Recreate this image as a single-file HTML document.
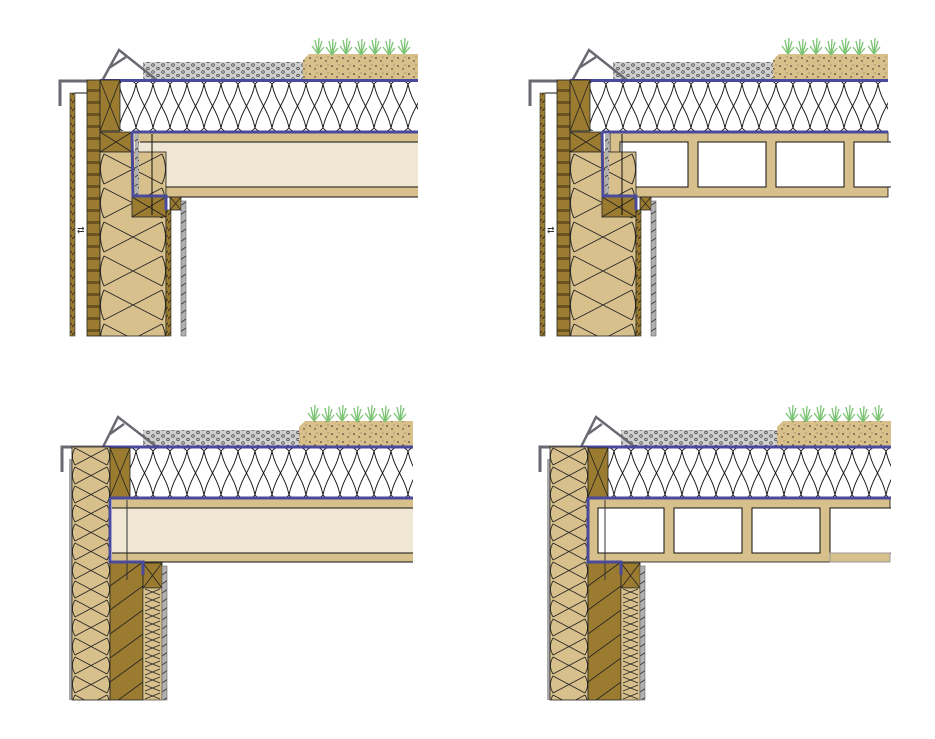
<!DOCTYPE html>
<html><head><meta charset="utf-8"><style>html,body{margin:0;padding:0;background:#fff}svg{display:block}</style></head>
<body>
<svg width="935" height="739" viewBox="0 0 935 739" xmlns="http://www.w3.org/2000/svg">
<defs>
<pattern id="rins" patternUnits="userSpaceOnUse" width="17" height="50" x="0" y="81">
<rect width="17" height="50" fill="#fff"/>
<path d="M0,3 C3,20 14,30 17,47 M17,3 C14,20 3,30 0,47 M0,3 Q8.5,-6 17,3 M0,47 Q8.5,56 17,47" fill="none" stroke="#111" stroke-width="0.9"/>
</pattern>
<pattern id="rins2" patternUnits="userSpaceOnUse" width="17" height="50" x="0" y="448">
<rect width="17" height="50" fill="#fff"/>
<path d="M0,3 C3,20 14,30 17,47 M17,3 C14,20 3,30 0,47 M0,3 Q8.5,-6 17,3 M0,47 Q8.5,56 17,47" fill="none" stroke="#111" stroke-width="0.9"/>
</pattern>
<pattern id="wins" patternUnits="userSpaceOnUse" width="66" height="34" x="100" y="152">
<rect width="66" height="34" fill="#d8c08c"/>
<path d="M4,2 L62,32 M62,2 L4,32 M4,2 Q-3,17 4,32 M62,2 Q69,17 62,32" fill="none" stroke="#222" stroke-width="0.9"/>
</pattern>
<pattern id="wins2" patternUnits="userSpaceOnUse" width="38" height="19" x="72" y="447">
<rect width="38" height="19" fill="#d8c08c"/>
<path d="M3,1 L35,18 M35,1 L3,18 M3,1 Q-2,9.5 3,18 M35,1 Q40,9.5 35,18" fill="none" stroke="#222" stroke-width="0.8"/>
</pattern>
<pattern id="wins3" patternUnits="userSpaceOnUse" width="19" height="8" x="143" y="588">
<rect width="19" height="8" fill="#d8c08c"/>
<path d="M2,1 L17,7 M17,1 L2,7" fill="none" stroke="#222" stroke-width="0.7"/>
</pattern>
<pattern id="batt" patternUnits="userSpaceOnUse" width="13" height="12" x="87" y="80">
<rect width="13" height="12" fill="#9b7b30"/>
<rect y="9" width="13" height="3" fill="#6b5420"/>
</pattern>
<pattern id="diag" patternUnits="userSpaceOnUse" width="33" height="24" x="110" y="562" >
<rect width="33" height="24" fill="#9b7b30"/>
<path d="M0,24 L33,0" stroke="#222" stroke-width="0.9"/>
</pattern>
<pattern id="grav" patternUnits="userSpaceOnUse" width="10" height="7">
<rect width="10" height="7" fill="#cfcfcf"/>
<circle cx="3" cy="2" r="1.3" fill="none" stroke="#333" stroke-width="0.7"/>
<circle cx="8" cy="5.5" r="1.3" fill="none" stroke="#333" stroke-width="0.7"/>
</pattern>
<pattern id="soil" patternUnits="userSpaceOnUse" width="11" height="8">
<rect width="11" height="8" fill="#d9c08a"/>
<circle cx="2" cy="2" r="0.8" fill="#222"/><circle cx="7" cy="5" r="0.7" fill="#222"/><circle cx="9" cy="1" r="0.5" fill="#555"/>
</pattern>
<pattern id="hatch" patternUnits="userSpaceOnUse" width="4" height="8">
<rect width="4" height="8" fill="#9b7b30"/><path d="M0,7 L4,3" stroke="#222" stroke-width="0.8"/>
</pattern>
<pattern id="ghatch" patternUnits="userSpaceOnUse" width="6" height="9">
<rect width="6" height="9" fill="#b0b0b0"/><path d="M0,8 L6,4" stroke="#333" stroke-width="0.8"/>
</pattern>
<g id="grass">
<path d="M0,16 L-3,2 M0,16 L1,0 M0,16 L4,3 M0,16 L-6,8 M0,16 L6,9" stroke="#7cc474" stroke-width="1.3" fill="none"/>
</g>
<g id="xb"><path d="M0,0 L1,1 M1,0 L0,1" /></g>

<!-- roof top (top panels, top-left coords) -->
<g id="roofT">
<rect x="143" y="62" width="162" height="18" fill="url(#grav)"/>
<path d="M303,80 L303,60 L309,54 L418,54 L418,80 Z" fill="url(#soil)"/>
<g>
<use href="#grass" x="318" y="38"/><use href="#grass" x="332" y="39"/><use href="#grass" x="346" y="38"/><use href="#grass" x="361" y="39"/><use href="#grass" x="375" y="38"/><use href="#grass" x="389" y="39"/><use href="#grass" x="404" y="38"/>
</g>
<rect x="120" y="81" width="298" height="50" fill="url(#rins)"/>
<path d="M60,106 L60,81 L100,81" fill="none" stroke="#6a6a72" stroke-width="3"/>
<path d="M102,81 L119,50 L158,81 M109,68 L126,57" fill="none" stroke="#6a6a72" stroke-width="2.5"/>
<line x1="100" y1="80.5" x2="418" y2="80.5" stroke="#4a4a9c" stroke-width="3"/>
</g>

<g id="wallT">
<rect x="70" y="93" width="5" height="243" fill="url(#hatch)" stroke="#333" stroke-width="0.6"/>
<line x1="75" y1="93" x2="87" y2="93" stroke="#111"/>
<rect x="87" y="80" width="13" height="256" fill="url(#batt)" stroke="#222" stroke-width="0.8"/>
<text x="77" y="233" font-family="Liberation Sans, sans-serif" font-size="9" fill="#333">⇄</text>
<rect x="100" y="80" width="20" height="51" fill="#9b7b30" stroke="#222" stroke-width="0.8"/>
<path d="M100,80 L120,131 M120,80 L100,131" stroke="#222" stroke-width="0.8"/>
<rect x="100" y="132" width="32" height="20" fill="#9b7b30" stroke="#222" stroke-width="0.8"/>
<path d="M100,132 L132,152 M132,132 L100,152" stroke="#222" stroke-width="0.8"/>
<rect x="100" y="152" width="66" height="184" fill="url(#wins)" stroke="#222" stroke-width="0.8"/>
<rect x="166" y="210" width="5" height="126" fill="url(#hatch)" stroke="#222" stroke-width="0.6"/>
<rect x="132" y="197" width="34" height="20" fill="#9b7b30" stroke="#222" stroke-width="0.8"/>
<path d="M132,197 L166,217 M166,197 L132,217" stroke="#222" stroke-width="0.8"/>
<rect x="170" y="197" width="11" height="13" fill="#9b7b30" stroke="#222" stroke-width="0.8"/>
<path d="M170,197 L181,210 M181,197 L170,210" stroke="#222" stroke-width="0.7"/>
<rect x="181" y="201" width="5" height="135" fill="url(#ghatch)" stroke="#666" stroke-width="0.6"/>
<rect x="135" y="134" width="4" height="62" fill="url(#ghatch)"/>
<line x1="152" y1="134" x2="152" y2="215" stroke="#111" stroke-width="1"/>
</g>
<path id="blueT" d="M132,132 L418,132 M132,132 L133,196 L166,196 L166,210" fill="none" stroke="#4a4a9c" stroke-width="3"/>

<!-- bottom panels (bottom-left coords) -->
<g id="roofB">
<rect x="143" y="430" width="160" height="17" fill="url(#grav)"/>
<path d="M299,447 L299,427 L305,421 L413,421 L413,447 Z" fill="url(#soil)"/>
<use href="#grass" x="314" y="405"/><use href="#grass" x="328" y="406"/><use href="#grass" x="342" y="405"/><use href="#grass" x="357" y="406"/><use href="#grass" x="371" y="405"/><use href="#grass" x="385" y="406"/><use href="#grass" x="400" y="405"/>
<rect x="130" y="448" width="283" height="49" fill="url(#rins2)"/>
<path d="M62,472 L62,447 L102,447" fill="none" stroke="#6a6a72" stroke-width="3"/>
<path d="M103,447 L118,417 L157,447 M110,434 L124,424" fill="none" stroke="#6a6a72" stroke-width="2.5"/>
<line x1="102" y1="447" x2="413" y2="447" stroke="#4a4a9c" stroke-width="3"/>
</g>
<g id="wallB">
<rect x="69" y="459" width="4" height="241" fill="#aaa"/>
<rect x="72" y="447" width="38" height="253" fill="url(#wins2)" stroke="#222" stroke-width="0.8"/>
<rect x="110" y="448" width="20" height="49" fill="#9b7b30" stroke="#222" stroke-width="0.8"/>
<path d="M110,448 L130,497 M130,448 L110,497" stroke="#222" stroke-width="0.8"/>
<rect x="110" y="562" width="33" height="138" fill="url(#diag)" stroke="#222" stroke-width="0.8"/>
<rect x="143" y="563" width="19" height="25" fill="#9b7b30" stroke="#222" stroke-width="0.8"/>
<path d="M143,563 L162,588 M162,563 L143,588" stroke="#222" stroke-width="0.8"/>
<rect x="143" y="588" width="19" height="112" fill="url(#wins3)" stroke="#222" stroke-width="0.6"/>
<rect x="162" y="566" width="5" height="134" fill="url(#ghatch)" stroke="#666" stroke-width="0.6"/>
<line x1="127" y1="500" x2="127" y2="580" stroke="#333" stroke-width="1"/>
</g>
<path id="blueB" d="M110,498 L413,498 M110,498 L110,562 L143,562 L143,575" fill="none" stroke="#4a4a9c" stroke-width="3"/>
</defs>

<!-- Top-left -->
<use href="#roofT"/>
<rect x="134" y="132" width="284" height="65" fill="#d8c08c"/>
<rect x="134" y="142" width="284" height="45" fill="#efe6d4"/>
<path d="M140,142 L418,142 M140,187 L418,187 M134,197 L418,197" stroke="#111" stroke-width="1"/>
<use href="#wallT"/>
<use href="#blueT"/>

<!-- Top-right -->
<g transform="translate(470,0)">
<use href="#roofT"/>
<rect x="140" y="132" width="278" height="65" fill="#d8c08c" stroke="#111" stroke-width="0.8"/>
<g fill="#fff" stroke="#111" stroke-width="1">
<rect x="150" y="142" width="68" height="45"/>
<rect x="228" y="142" width="68" height="45"/>
<rect x="306" y="142" width="68" height="45"/>
<rect x="384" y="142" width="40" height="45"/>
</g>
<use href="#wallT"/>
<use href="#blueT"/>
</g>

<!-- Bottom-left -->
<use href="#roofB"/>
<rect x="112" y="498" width="301" height="64" fill="#d8c08c"/>
<rect x="112" y="508" width="301" height="45" fill="#efe6d4"/>
<path d="M112,508 L413,508 M112,553 L413,553 M143,562 L413,562" stroke="#111" stroke-width="1"/>
<use href="#wallB"/>
<use href="#blueB"/>

<!-- Bottom-right -->
<g transform="translate(478,0)">
<use href="#roofB"/>
<rect x="110" y="498" width="302" height="64" fill="#d8c08c" stroke="#111" stroke-width="0.8"/>
<g fill="#fff" stroke="#111" stroke-width="1">
<rect x="120" y="508" width="66" height="45"/>
<rect x="196" y="508" width="68" height="45"/>
<rect x="274" y="508" width="68" height="45"/>
<rect x="352" y="508" width="70" height="45"/>
</g>
<rect x="352" y="553" width="60" height="9" fill="#d8c08c" stroke="#999" stroke-width="1"/>
<use href="#wallB"/>
<use href="#blueB"/>
</g>
<rect x="891" y="0" width="44" height="739" fill="#fff"/>
<rect x="419" y="0" width="100" height="739" fill="#fff"/>
</svg>
</body></html>
